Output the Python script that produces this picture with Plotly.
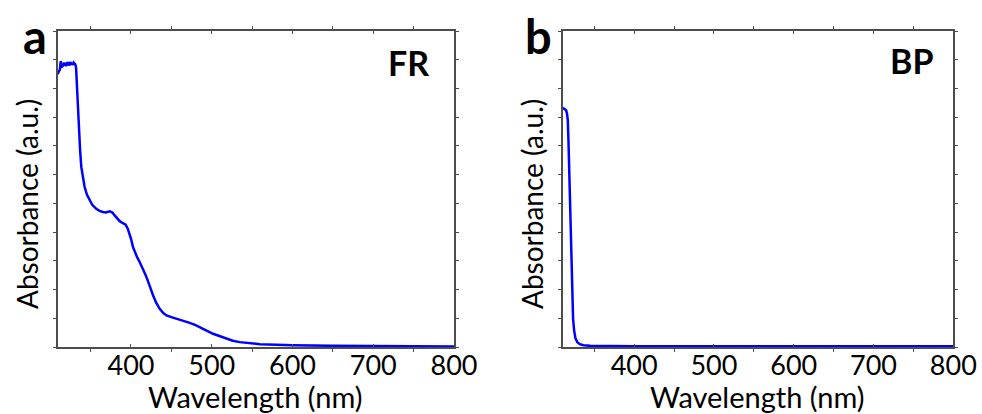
import plotly.graph_objects as go

# Panel a: FR absorbance spectrum
fr_wavelength = [309, 310, 311, 312, 313, 314, 315, 316, 317, 318, 319, 320, 321, 322, 323, 324,
                 325, 326, 327, 328, 329, 330, 331, 332, 333, 334, 335.6, 337, 338.5, 340.5, 342.6,
                 345.5, 348.8, 352, 357, 361, 365.3, 369, 373.6, 377, 379.8, 383, 386, 390, 393.4,
                 396, 398.4, 400.5, 402.5, 405, 407.5, 410, 412.9, 416, 419.1, 423, 427.3, 431,
                 435.6, 440, 443.9, 450, 456.3, 464, 472.7, 480, 485.1, 493, 501.6, 510, 518.2,
                 526, 534.7, 545, 559.5, 580, 600, 650, 700, 750, 800]
fr_absorbance = [9.50, 9.55, 9.60, 9.66, 9.95, 9.72, 9.86, 9.76, 9.90, 9.80, 9.88, 9.78, 9.92, 9.82,
                 9.86, 9.80, 9.92, 9.84, 9.88, 9.82, 9.90, 9.86, 9.84, 9.72, 9.10, 8.40, 7.42, 6.85,
                 6.26, 5.85, 5.57, 5.30, 5.10, 4.95, 4.81, 4.74, 4.70, 4.68, 4.72, 4.68, 4.58, 4.48,
                 4.38, 4.31, 4.26, 4.12, 3.94, 3.72, 3.48, 3.28, 3.13, 3.00, 2.84, 2.64, 2.44, 2.12,
                 1.80, 1.55, 1.33, 1.18, 1.10, 1.04, 0.99, 0.92, 0.84, 0.76, 0.70, 0.58, 0.46, 0.37,
                 0.29, 0.22, 0.17, 0.14, 0.10, 0.08, 0.06, 0.04, 0.03, 0.025, 0.02]

# Panel b: BP absorbance spectrum
bp_wavelength = [310.5, 312, 313.5, 314.8, 316, 316.9, 317.7, 318.5, 319.3, 320.2, 321.2, 322.3,
                 323.5, 324.8, 326.5, 328.9, 332, 336.5, 345, 400, 500, 600, 700, 800]
bp_absorbance = [8.33, 8.30, 8.28, 8.24, 8.10, 7.89, 7.20, 6.26, 5.10, 3.94, 2.70, 1.62, 1.00, 0.58,
                 0.30, 0.17, 0.10, 0.06, 0.04, 0.03, 0.03, 0.03, 0.03, 0.03]

x_major_ticks = [400, 500, 600, 700, 800]
x_major_text = ["400", "500", "600", "700", "800"]
x_minor_ticks = [350, 450, 550, 650, 750]
y_ticks = list(range(0, 12))

panel_labels = ["a", "b"]
sample_labels = ["FR", "BP"]
x_title = "Wavelength (nm)"
y_title = "Absorbance (a.u.)"

W, H = 982, 414
FONT = "Lato"
LINE_COLOR = "#0000ff"
AXIS_COLOR = "#4d4d4d"

dom_a = [57.5 / W, 454 / W]
dom_b = [562.7 / W, 953.3 / W]
dom_y = [1 - 347 / H, 1 - 31 / H]

fig = go.Figure()
fig.add_trace(go.Scatter(x=fr_wavelength, y=fr_absorbance, mode="lines",
                         line=dict(color=LINE_COLOR, width=2.5), xaxis="x", yaxis="y",
                         showlegend=False, hoverinfo="skip"))
fig.add_trace(go.Scatter(x=bp_wavelength, y=bp_absorbance, mode="lines",
                         line=dict(color=LINE_COLOR, width=2.5), xaxis="x2", yaxis="y2",
                         showlegend=False, hoverinfo="skip"))

common_x = dict(tickmode="array", tickvals=x_major_ticks, ticktext=x_major_text, ticks="inside",
                ticklen=3, tickwidth=1, tickcolor=AXIS_COLOR, showline=True, linecolor=AXIS_COLOR,
                linewidth=1.5, mirror="ticks", showgrid=False, zeroline=False,
                ticklabelstandoff=-6, automargin=False,
                minor=dict(tickmode="array", tickvals=x_minor_ticks, ticks="outside", ticklen=3,
                           tickwidth=1, tickcolor=AXIS_COLOR, showgrid=False),
                tickfont=dict(family=FONT, size=27, color="black"))
common_y = dict(tickmode="array", tickvals=y_ticks, showticklabels=False, ticks="outside",
                ticklen=3, tickwidth=1, tickcolor=AXIS_COLOR, showline=True, linecolor=AXIS_COLOR,
                linewidth=1.5, mirror="ticks", showgrid=False, zeroline=False, range=[0, 11],
                automargin=False)

fig.update_layout(
    width=W, height=H, margin=dict(l=0, r=0, t=0, b=0, autoexpand=False), autosize=False,
    paper_bgcolor="white", plot_bgcolor="white",
    xaxis=dict(domain=dom_a, range=[309, 800], anchor="y", **common_x),
    yaxis=dict(domain=dom_y, anchor="x", **common_y),
    xaxis2=dict(domain=dom_b, range=[310.5, 800], anchor="y2", **common_x),
    yaxis2=dict(domain=dom_y, anchor="x2", **common_y),
)

def px_x(p):
    return p / W

def px_y(p):
    return 1 - p / H

annots = []
# axis titles
for cx, ycx in [((dom_a[0] + dom_a[1]) / 2, 27), ((dom_b[0] + dom_b[1]) / 2, 532)]:
    annots.append(dict(text=x_title, x=cx, y=px_y(396), xref="paper", yref="paper",
                       xanchor="center", yanchor="middle", showarrow=False,
                       font=dict(family=FONT, size=29, color="black")))
    annots.append(dict(text=y_title, x=px_x(ycx), y=px_y(204), xref="paper", yref="paper",
                       xanchor="center", yanchor="middle", textangle=-90, showarrow=False,
                       font=dict(family=FONT, size=28, color="black")))
# panel letters
annots.append(dict(text="<b>%s</b>" % panel_labels[0], x=px_x(35), y=px_y(36), xref="paper",
                   yref="paper", xanchor="center", yanchor="middle", showarrow=False,
                   font=dict(family=FONT, size=47, color="black")))
annots.append(dict(text="<b>%s</b>" % panel_labels[1], x=px_x(538.5), y=px_y(36), xref="paper",
                   yref="paper", xanchor="center", yanchor="middle", showarrow=False,
                   font=dict(family=FONT, size=47, color="black")))
# sample labels
annots.append(dict(text="<b>%s</b>" % sample_labels[0], x=px_x(408), y=px_y(62), xref="paper",
                   yref="paper", xanchor="center", yanchor="middle", showarrow=False,
                   font=dict(family=FONT, size=34, color="black")))
annots.append(dict(text="<b>%s</b>" % sample_labels[1], x=px_x(911), y=px_y(61), xref="paper",
                   yref="paper", xanchor="center", yanchor="middle", showarrow=False,
                   font=dict(family=FONT, size=34, color="black")))
fig.update_layout(annotations=annots)

fig.write_html("out.html", config={"responsive": False})
